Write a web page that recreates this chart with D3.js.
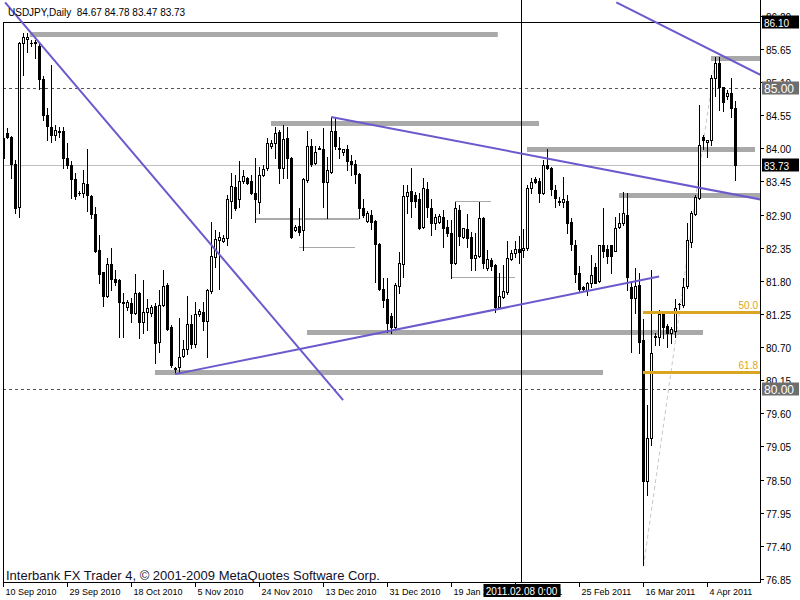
<!DOCTYPE html>
<html><head><meta charset="utf-8">
<script src="https://cdn.jsdelivr.net/npm/d3@7"></script>
<style>
html,body{margin:0;padding:0;background:#fff;}
svg{display:block;}
text{font-family:Tahoma,"Liberation Sans",Arial,sans-serif;}
</style></head><body>
<svg id="c" width="800" height="600"></svg>
<script>
// ---- data (USDJPY daily) ----
const openP = [83.83,84.26,84.19,83.74,83.03,85.75,85.82,85.75,85.77,85.69,85.15,84.56,84.36,84.22,84.27,84.29,83.83,83.73,83.49,83.26,
83.26,83.41,83.21,82.91,82.31,81.95,81.55,82.08,81.83,81.82,81.45,81.37,81.43,81.27,81.60,81.12,81.28,81.27,81.38,80.79,
81.40,81.73,81.04,80.35,80.37,80.55,80.67,81.09,80.75,81.25,81.28,81.14,81.63,82.20,82.48,82.46,82.51,83.13,83.36,83.16,
83.46,83.51,83.46,83.26,83.11,83.56,83.68,84.03,84.08,84.27,83.68,84.17,83.84,82.65,82.71,82.65,83.48,84.04,83.76,84.01,
83.99,83.44,83.61,84.29,84.01,83.93,83.99,83.78,83.74,83.58,83.01,82.80,82.90,82.80,82.41,81.67,81.50,81.22,81.04,81.72,
82.08,83.21,83.29,83.23,83.15,82.70,83.33,83.01,82.76,82.78,82.86,82.70,82.60,82.10,82.98,82.53,82.66,82.53,82.18,82.21,
82.85,82.02,82.15,82.07,81.37,81.53,81.62,82.16,82.26,82.33,82.31,82.35,83.34,83.49,83.46,83.26,83.73,83.68,83.31,83.13,
83.10,83.13,82.78,82.40,81.93,81.70,81.65,81.77,82.03,81.80,82.40,82.33,82.40,82.30,82.70,82.76,82.90,81.70,81.52,81.73,
80.82,78.48,79.19,80.87,80.87,81.25,81.05,80.94,80.97,81.42,81.40,81.72,82.45,82.91,83.18,84.19,84.11,84.14,85.17,85.42,
85.02,84.86,84.92,84.67];
const highP = [84.37,84.34,84.21,83.81,85.77,85.92,85.92,85.80,85.80,85.77,85.20,84.67,85.39,84.39,84.36,84.36,84.09,83.78,83.59,83.29,
83.64,83.98,83.23,83.03,82.56,81.95,82.18,82.35,81.98,81.83,81.60,81.48,81.52,81.92,81.61,81.82,81.50,81.40,81.43,81.65,
81.98,81.77,81.07,80.37,81.18,80.82,81.55,81.23,81.45,81.33,81.45,81.67,82.78,82.65,82.61,82.56,83.23,83.59,83.56,83.78,
83.64,83.53,83.56,83.84,83.69,83.73,84.17,84.13,84.36,84.31,84.39,84.36,83.86,82.73,83.00,83.51,84.29,84.16,84.03,84.04,
84.34,83.86,84.51,84.52,84.19,83.99,84.06,83.89,83.81,83.59,83.16,82.96,82.98,82.81,82.43,81.85,81.85,81.27,81.77,82.28,
83.39,83.39,83.68,83.28,83.26,83.51,83.44,83.15,82.91,82.91,82.98,82.81,82.81,83.11,83.06,82.68,82.91,82.61,82.60,83.11,
82.86,82.31,82.18,82.08,81.93,82.07,82.46,82.31,82.46,82.55,82.66,83.39,83.51,83.53,83.51,83.81,83.98,83.69,83.39,83.19,
83.53,83.23,82.85,82.48,82.05,81.72,81.78,82.23,82.10,82.40,83.00,82.40,82.40,82.86,82.93,83.28,83.26,81.77,82.02,81.93,
81.17,79.74,81.98,80.94,81.32,81.28,81.09,81.04,81.50,81.43,81.85,82.76,82.95,83.23,84.71,84.22,84.14,85.22,85.52,85.52,
85.02,84.97,85.17,84.78];
const lowP = [83.76,84.17,83.51,82.93,82.86,85.22,85.60,85.69,85.50,84.99,84.47,84.14,84.11,84.14,84.19,83.68,83.68,83.18,83.15,83.23,
83.19,82.95,82.85,82.28,81.77,81.38,81.53,81.65,81.73,80.87,80.87,81.32,81.12,81.25,80.85,80.94,80.99,81.22,80.44,80.62,
81.38,80.99,80.37,80.27,80.29,80.54,80.59,80.69,80.70,81.22,80.99,80.54,81.60,82.03,81.67,82.45,82.40,82.85,82.98,83.03,
83.43,83.41,83.24,82.78,82.93,83.54,83.64,84.01,83.84,83.43,83.51,83.51,82.51,82.63,82.56,82.31,83.44,83.71,83.74,83.98,
83.03,82.85,83.59,83.99,83.84,83.89,83.64,83.56,83.43,82.85,82.86,82.78,82.66,81.78,81.65,81.37,80.95,80.94,81.02,81.60,
81.87,82.93,82.86,83.03,82.66,82.68,82.86,82.56,82.66,82.76,82.36,82.55,81.85,82.08,82.40,82.51,82.36,81.98,81.98,82.20,
82.02,81.98,81.98,81.28,81.35,81.52,81.58,82.15,82.20,82.10,82.20,82.31,83.26,83.43,83.10,83.24,83.66,83.23,83.03,83.06,
83.03,82.60,82.31,81.78,81.62,81.65,81.57,81.70,81.77,81.78,82.20,82.10,81.93,82.30,82.68,82.73,81.65,80.62,81.27,80.60,
77.08,78.25,79.08,80.74,80.74,80.85,80.70,80.77,80.87,81.33,81.37,81.68,82.36,82.90,83.15,83.98,83.86,84.06,84.86,84.64,
84.61,84.81,84.52,83.47];
const closeP = [84.17,84.19,83.74,83.01,85.75,85.84,85.85,85.74,85.74,85.15,84.56,84.37,84.22,84.31,84.28,83.83,83.73,83.49,83.21,83.25,
83.43,83.23,82.91,82.30,81.92,81.55,82.08,81.83,81.78,81.45,81.43,81.45,81.27,81.60,81.12,81.28,81.35,81.37,80.77,81.40,
81.72,81.00,80.40,80.34,80.54,80.67,81.09,80.75,81.25,81.30,81.14,81.65,82.21,82.50,82.53,82.51,83.15,83.38,83.01,83.46,
83.54,83.43,83.26,83.15,83.56,83.66,84.09,84.09,84.26,83.68,84.16,83.84,82.53,82.70,82.61,83.49,84.04,83.74,83.94,83.99,
83.44,83.64,84.29,84.03,83.98,83.99,83.78,83.74,83.58,83.00,82.90,82.93,82.78,82.41,81.67,81.48,81.10,81.04,81.73,82.10,
83.21,83.28,83.13,83.13,82.68,83.34,83.03,82.76,82.86,82.88,82.68,82.60,82.10,83.00,82.55,82.68,82.51,82.18,82.23,82.85,
82.10,82.16,82.05,81.37,81.55,81.63,82.18,82.26,82.33,82.28,82.35,83.34,83.44,83.44,83.26,83.73,83.68,83.33,83.18,83.10,
83.15,82.76,82.41,81.92,81.67,81.67,81.77,81.90,81.77,82.40,82.30,82.21,82.21,82.68,82.76,82.93,81.87,81.52,81.72,80.79,
78.48,79.19,80.60,80.88,81.25,81.04,80.94,81.00,81.35,81.42,81.70,82.48,82.93,83.19,84.06,84.13,84.14,85.17,85.42,85.02,
84.76,84.92,84.67,83.73];

const priceTicks = [86.20,85.65,85.10,84.55,84.00,83.45,82.90,82.35,81.80,81.25,80.70,80.15,79.60,79.05,78.50,77.95,77.40,76.85];
const dateTickBars = [0,16,32,48,64,80,96,112,128,144,160,176];
const dateTickLabels = ["10 Sep 2010","29 Sep 2010","18 Oct 2010","5 Nov 2010","24 Nov 2010","13 Dec 2010","31 Dec 2010","19 Jan 2011","7 Feb 2011","25 Feb 2011","16 Mar 2011","4 Apr 2011"];

// drawn objects: trendlines [bar1, price1, bar2, price2]
const trendLines = [[0.4,86.42,84.9,79.82],[42.9,80.25,163.9,81.87],[81.9,84.52,189.2,83.15],[153.2,86.42,189.2,85.22]];
// gray horizontal segments [price, fromBar, toBar]
const thickLevels = [[85.89,6.7,123.7],[84.42,67,134],[83.98,131,188],[83.23,154,189.5],[80.95,76,175],[80.29,38,150],[85.49,177,189.5]];
const mediumLevels = [[82.83,63,89]];
const thinLevels = [[82.36,74,88],[83.13,113,122],[81.87,112,128]];
const dashedLevels = [85.00, 80.00];
const hLine = 86.10;
const bidPrice = 83.73;
const vLineBar = 129.5, vLineLabel = "2011.02.08 0:00";
const fibFrom = [160, 77.06], fibTo = [178, 85.51];
const fibLevels = [50.0, 61.8];
const titleText = "USDJPY,Daily  84.67 84.78 83.47 83.73";
const copyrightText = "Interbank FX Trader 4, \u00A9 2001-2009 MetaQuotes Software Corp.";

// ---- scales ----
const x = d3.scaleLinear().domain([0,1]).range([3,7]);
const y = d3.scaleLinear().domain([80,85]).range([389.2,88]);
const L = 3, R = 760, B = 582;

const svg = d3.select('#c');
svg.append('rect').attr('width',800).attr('height',600).attr('fill','#fff');
svg.append('clipPath').attr('id','clip').append('rect').attr('x',L+1).attr('y',0).attr('width',R-L-1).attr('height',B);
const g = svg.append('g').attr('clip-path','url(#clip)');
const px = v => Math.round(v);

// bid line
g.append('line').attr('x1',L).attr('x2',R).attr('y1',px(y(bidPrice))+0.5).attr('y2',px(y(bidPrice))+0.5).attr('stroke','#c0c0c0');
// dashed levels
dashedLevels.forEach(p=>{
  g.append('line').attr('x1',L).attr('x2',R).attr('y1',px(y(p))+0.5).attr('y2',px(y(p))+0.5)
   .attr('stroke','#555').attr('stroke-dasharray','3,3');
});
// horizontal line object
g.append('line').attr('x1',L).attr('x2',R).attr('y1',px(y(hLine))+0.5).attr('y2',px(y(hLine))+0.5).attr('stroke','#000');
// gray levels
function seg(arr, w){
  arr.forEach(([p,a,b])=>{
    g.append('line').attr('x1',x(a)).attr('x2',x(b)).attr('y1',px(y(p))+(w%2?0.5:0)).attr('y2',px(y(p))+(w%2?0.5:0))
     .attr('stroke','#a9a9a9').attr('stroke-width',w);
  });
}
seg(thickLevels,5); seg(mediumLevels,2); seg(thinLevels,1);
// fib base line
g.append('line').attr('x1',x(fibFrom[0])+0.5).attr('y1',y(fibFrom[1])).attr('x2',x(fibTo[0])+0.5).attr('y2',y(fibTo[1]))
 .attr('stroke','#c8c8c8').attr('stroke-dasharray','4,3');

// vertical line
g.append('line').attr('x1',px(x(vLineBar))+0.5).attr('x2',px(x(vLineBar))+0.5).attr('y1',0).attr('y2',B).attr('stroke','#000');

// candles
const cg = g.append('g');
openP.forEach((o,i)=>{
  const h=highP[i], l=lowP[i], c=closeP[i];
  const cx = px(x(i));
  const yh=px(y(h)), yl=px(y(l)), yo=px(y(o)), yc=px(y(c));
  cg.append('line').attr('x1',cx+0.5).attr('x2',cx+0.5).attr('y1',yh).attr('y2',yl+1).attr('stroke','#000');
  const top=Math.min(yo,yc), bot=Math.max(yo,yc);
  if (bot===top){
    cg.append('line').attr('x1',cx-1).attr('x2',cx+2).attr('y1',top+0.5).attr('y2',top+0.5).attr('stroke','#000');
  } else if (c>o){
    cg.append('rect').attr('x',cx-0.5).attr('y',top+0.5).attr('width',2).attr('height',bot-top).attr('fill','#fff').attr('stroke','#000');
  } else {
    cg.append('rect').attr('x',cx-1).attr('y',top).attr('width',3).attr('height',bot-top+1).attr('fill','#000');
  }
});

// trendlines
trendLines.forEach(([b1,p1,b2,p2])=>{
  g.append('line').attr('x1',x(b1)+0.5).attr('y1',y(p1)).attr('x2',x(b2)+0.5).attr('y2',y(p2))
   .attr('stroke','#6a5acd').attr('stroke-width',2);
});
// fib levels
fibLevels.forEach(lv=>{
  const p = fibTo[1] - (fibTo[1]-fibFrom[1])*lv/100;
  const yy = px(y(p))+0.5;
  g.append('line').attr('x1',x(fibFrom[0])).attr('x2',R).attr('y1',yy).attr('y2',yy).attr('stroke','#daa520').attr('stroke-width',3);
  g.append('text').attr('x',R-2).attr('y',yy-4).attr('text-anchor','end').attr('font-size',10).attr('fill','#daa520').text(lv.toFixed(1));
});

// frame
svg.append('line').attr('x1',L+0.5).attr('x2',L+0.5).attr('y1',px(y(hLine))).attr('y2',B+0.5).attr('stroke','#000');
svg.append('line').attr('x1',L).attr('x2',R+1).attr('y1',B+0.5).attr('y2',B+0.5).attr('stroke','#000');
svg.append('line').attr('x1',R+0.5).attr('x2',R+0.5).attr('y1',0).attr('y2',B+1).attr('stroke','#000');

// right axis
priceTicks.forEach(p=>{
  const yy = px(y(p))+0.5;
  svg.append('line').attr('x1',R).attr('x2',R+4).attr('y1',yy).attr('y2',yy).attr('stroke','#000');
  svg.append('text').attr('x',R+6).attr('y',yy+4).attr('font-size',10).attr('fill','#000').text(p.toFixed(2));
});
function priceBox(p, bg, fs){
  const yy = px(y(p))+0.5;
  svg.append('rect').attr('x',R+2).attr('y',yy-7).attr('width',37).attr('height',13).attr('fill',bg);
  svg.append('text').attr('x',R+4).attr('y',yy+(fs>10?4.5:4)).attr('font-size',fs).attr('fill','#fff').text(p.toFixed(2));
}
priceBox(hLine,'#000',10);
dashedLevels.forEach(p=>priceBox(p,'#6e6e6e',12));
priceBox(bidPrice,'#000',10);

// bottom axis
dateTickBars.forEach((b,k)=>{
  const xx = px(x(b))+0.5;
  svg.append('line').attr('x1',xx).attr('x2',xx).attr('y1',B).attr('y2',B+5).attr('stroke','#000');
  svg.append('text').attr('x',xx+2).attr('y',595).attr('font-size',9).attr('fill','#000').text(dateTickLabels[k]);
});
{
  const xx = px(x(vLineBar))+0.5;
  svg.append('rect').attr('x',xx-38).attr('y',584).attr('width',77).attr('height',13).attr('fill','#000');
  svg.append('text').attr('x',xx).attr('y',594.5).attr('text-anchor','middle').attr('font-size',10).attr('fill','#fff').text(vLineLabel);
}

// texts
svg.append('text').attr('x',8).attr('y',16).attr('font-size',10).attr('fill','#000').attr('xml:space','preserve').style('white-space','pre').text(titleText);
svg.append('text').attr('x',6).attr('y',580).attr('font-size',13).attr('fill','#10102a').text(copyrightText);
</script>
</body></html>
